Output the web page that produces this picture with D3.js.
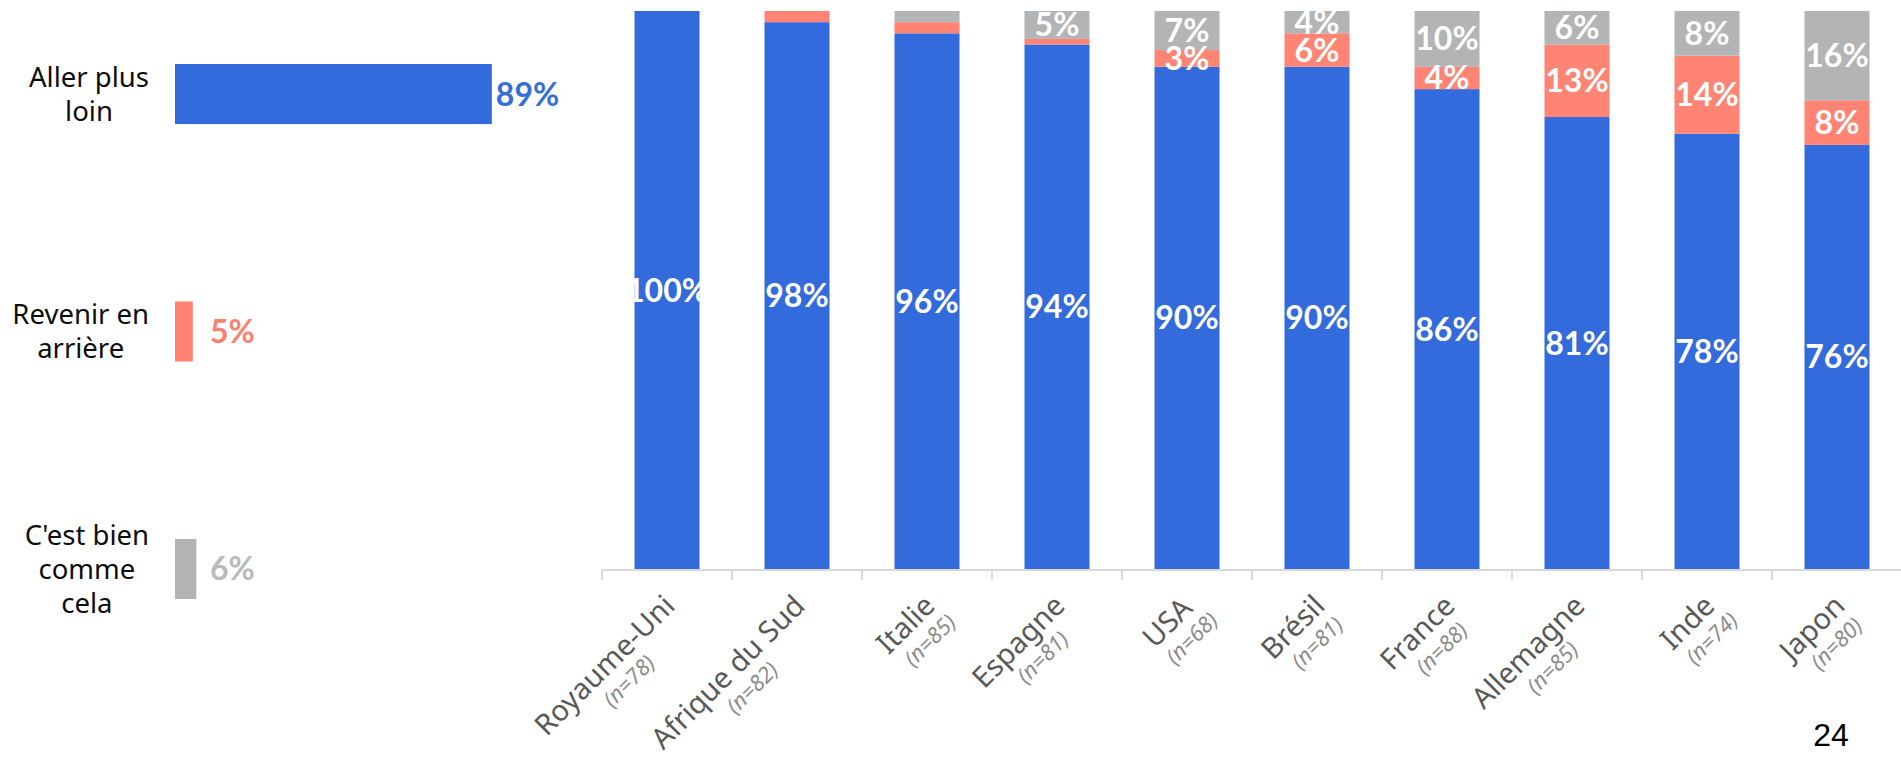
<!DOCTYPE html>
<html>
<head>
<meta charset="utf-8">
<script src="https://cdn.jsdelivr.net/npm/d3@7/dist/d3.min.js"></script>
<style>
  html, body { margin: 0; padding: 0; background: #fff; }
  svg { display: block; }
</style>
</head>
<body>
<svg id="chart" width="1901" height="757"></svg>
<script>
// ---- Data ----
const categories = ["Royaume-Uni", "Afrique du Sud", "Italie", "Espagne", "USA", "Brésil", "France", "Allemagne", "Inde", "Japon"];
const sampleSizes = ["(n=78)", "(n=82)", "(n=85)", "(n=81)", "(n=68)", "(n=81)", "(n=88)", "(n=85)", "(n=74)", "(n=80)"];
const allerPlusLoin = [100, 98, 96, 94, 90, 90, 86, 81, 78, 76];
const revenirEnArriere = [0, 2, 2, 1, 3, 6, 4, 13, 14, 8];
const bienCommeCela = [0, 0, 2, 5, 7, 4, 10, 6, 8, 16];
const seriesKeys = ["aller", "revenir", "bien"];

const totalCategories = ["Aller plus loin", "Revenir en arrière", "C'est bien comme cela"];
const totalLabelLines = [["Aller plus", "loin"], ["Revenir en", "arrière"], ["C'est bien", "comme", "cela"]];
const totalValues = [89, 5, 6];

const pageNumber = "24";

// ---- Styles ----
const colors = { aller: "#336BDD", revenir: "#FF8473", bien: "#B2B4B5" };
const textColors = ["#356DDB", "#FA8070", "#B8BABB"];
const svg = d3.select("#chart");
const FONT = "'Noto Sans', sans-serif";
const BOLD_FONT = "Lato, sans-serif";

// ---- Left chart (totals) ----
const lx = d3.scaleLinear().domain([0, 100]).range([175, 531]);
const ly = d3.scaleBand().domain(totalCategories).range([16.5, 646.5]).paddingInner(0.747).paddingOuter(0.2);

const left = svg.append("g");
left.selectAll("rect").data(totalCategories).join("rect")
  .attr("x", lx(0))
  .attr("y", d => ly(d))
  .attr("width", (d, i) => lx(totalValues[i]) - lx(0))
  .attr("height", ly.bandwidth())
  .attr("fill", (d, i) => [colors.aller, colors.revenir, colors.bien][i]);

left.selectAll("text.val").data(totalCategories).join("text")
  .attr("class", "val")
  .attr("x", (d, i) => Math.max(lx(totalValues[i]) + 4, 210))
  .attr("y", d => ly(d) + ly.bandwidth() / 2)
  .attr("dy", "0.36em")
  .attr("font-family", BOLD_FONT)
  .attr("font-weight", "bold")
  .attr("font-size", 32)
  .attr("fill", (d, i) => textColors[i])
  .text((d, i) => totalValues[i] + "%");

const lineH = 34;
totalCategories.forEach((c, i) => {
  const lines = totalLabelLines[i];
  const g = left.append("g");
  const cy = ly(c) + ly.bandwidth() / 2;
  const top = cy - (lines.length - 1) * lineH / 2;
  const t = g.selectAll("text").data(lines).join("text")
    .attr("y", (d, j) => top + j * lineH)
    .attr("dy", "0.36em")
    .attr("font-family", FONT)
    .attr("font-size", 27.5)
    .attr("fill", "#0d0d0d")
    .attr("text-anchor", "middle")
    .text(d => d);
  let maxLen = 0;
  t.each(function () { maxLen = Math.max(maxLen, this.getComputedTextLength()); });
  t.attr("x", 149 - maxLen / 2);
});

// ---- Right chart (stacked by country) ----
const rows = categories.map((c, i) => ({ cat: c, aller: allerPlusLoin[i], revenir: revenirEnArriere[i], bien: bienCommeCela[i] }));
const stack = d3.stack().keys(seriesKeys)(rows);

const x = d3.scaleBand().domain(categories).range([602, 1902]).paddingInner(0.5).paddingOuter(0.25);
const y = d3.scaleLinear().domain([0, 100]).range([569, 11]);

const right = svg.append("g");
const layers = right.selectAll("g.layer").data(stack).join("g").attr("class", "layer")
  .attr("fill", d => colors[d.key]);
layers.selectAll("rect").data(d => d).join("rect")
  .attr("x", d => x(d.data.cat))
  .attr("y", d => y(d[1]))
  .attr("width", x.bandwidth())
  .attr("height", d => y(d[0]) - y(d[1]));

// Segment labels
stack.forEach(layer => {
  right.append("g").selectAll("text").data(layer.filter(d => (d[1] - d[0]) >= 3)).join("text")
    .attr("x", d => x(d.data.cat) + x.bandwidth() / 2)
    .attr("y", d => (y(d[0]) + y(d[1])) / 2)
    .attr("dy", "0.36em")
    .attr("text-anchor", "middle")
    .attr("font-family", BOLD_FONT)
    .attr("font-weight", "bold")
    .attr("font-size", 32)
    .attr("fill", "#ffffff")
    .text(d => (d[1] - d[0]) + "%");
});

// Axis line and ticks at band boundaries
const axisY = y(0);
const half = (x.step() - x.bandwidth()) / 2;
right.append("line")
  .attr("x1", x(categories[0]) - half).attr("x2", 1901)
  .attr("y1", axisY + 1).attr("y2", axisY + 1)
  .attr("stroke", "#d9d9d9").attr("stroke-width", 2);
const tickXs = categories.map(c => x(c) - half).concat([x(categories[categories.length - 1]) + x.bandwidth() + half]);
right.selectAll("line.tick").data(tickXs).join("line")
  .attr("class", "tick")
  .attr("x1", d => d).attr("x2", d => d)
  .attr("y1", axisY + 1).attr("y2", axisY + 11)
  .attr("stroke", "#d9d9d9").attr("stroke-width", 2);

// Rotated category labels
categories.forEach((c, i) => {
  const cx = x(c) + x.bandwidth() / 2;
  const g = right.append("g").attr("transform", `translate(${cx - 6},${axisY + 23}) rotate(-45)`);
  const t1 = g.append("text")
    .attr("y", 22)
    .attr("font-family", FONT)
    .attr("font-size", 29)
    .attr("fill", "#595959")
    .attr("text-anchor", "middle")
    .text(c);
  const t2 = g.append("text")
    .attr("y", 22 + 26)
    .attr("font-family", FONT)
    .attr("font-style", "italic")
    .attr("font-size", 22)
    .attr("fill", "#8c8c8c")
    .attr("text-anchor", "middle")
    .text(sampleSizes[i]);
  const maxLen = Math.max(t1.node().getComputedTextLength(), t2.node().getComputedTextLength());
  t1.attr("x", -maxLen / 2);
  t2.attr("x", -maxLen / 2 + 6);
});

// Page number
svg.append("text")
  .attr("x", 1831).attr("y", 746)
  .attr("text-anchor", "middle")
  .attr("font-family", "'Liberation Sans', Arial, sans-serif")
  .attr("font-size", 32)
  .attr("fill", "#000")
  .text(pageNumber);
</script>
</body>
</html>
